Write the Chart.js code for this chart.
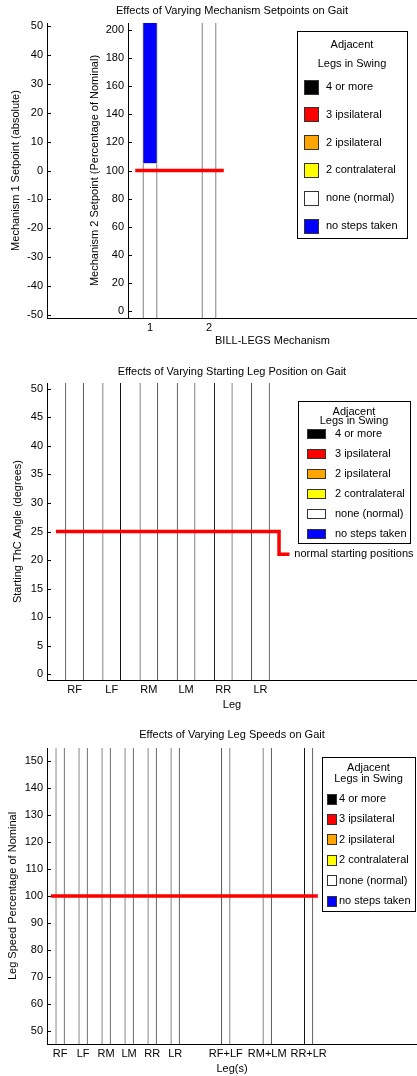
<!DOCTYPE html>
<html>
<head>
<meta charset="utf-8">
<title>Gait figures</title>
<script src="https://cdn.jsdelivr.net/npm/chart.js@4.4.1/dist/chart.umd.min.js"></script>
<style>
  html, body { margin: 0; padding: 0; background: #fff; overflow: hidden; }
  #page { position: relative; width: 417px; height: 1076px; }
  canvas { position: absolute; left: 0; }
</style>
</head>
<body>
<div id="page">
  <canvas id="mechOuter" width="417" height="355" style="top:0"></canvas>
  <canvas id="mechInner" width="417" height="355" style="top:0"></canvas>
  <canvas id="startPos" width="417" height="365" style="top:355px"></canvas>
  <canvas id="legSpeed" width="417" height="356" style="top:720px"></canvas>
</div>
<script>
// legend categories (same in all three panels)
const swingTitle = ['Adjacent', 'Legs in Swing'];
const swingLabels = ['4 or more', '3 ipsilateral', '2 ipsilateral', '2 contralateral', 'none (normal)', 'no steps taken'];
const swingColors = ['#000000', '#ff0000', '#ffa500', '#ffff00', '#ffffff', '#0000ff'];

// panel 1 - mechanism setpoints
const mechTitle = 'Effects of Varying Mechanism Setpoints on Gait';
const mechNames = ['1', '2'];
const mechPos = [1, 2];
const mechNormal = [[-5, 105], [-5, 205]];
const mechNoSteps = [[105, 205], null];
const mech1Ticks = [-50, -40, -30, -20, -10, 0, 10, 20, 30, 40, 50];
const mech2Ticks = [0, 20, 40, 60, 80, 100, 120, 140, 160, 180, 200];
const mechNominalX = [0.75, 2.25];
const mechNominalY = [100, 100];

// panel 2 - starting leg position
const startTitle = 'Effects of Varying Starting Leg Position on Gait';
const legNames = ['RF', 'LF', 'RM', 'LM', 'RR', 'LR'];
const legPos = [1, 2, 3, 4, 5, 6];
const startNormal = [[-1, 51], [-1, 51], [-1, 51], [-1, 51], [-1, 51], [-1, 51]];
const startTicks = [0, 5, 10, 15, 20, 25, 30, 35, 40, 45, 50];
const startNominalX = [0.5, 6.5, 6.5, 6.78];
const startNominalY = [25, 25, 21, 21];
const startNote = 'normal starting positions';

// panel 3 - leg speeds
const speedTitle = 'Effects of Varying Leg Speeds on Gait';
const speedNames = ['RF', 'LF', 'RM', 'LM', 'RR', 'LR', 'RF+LF', 'RM+LM', 'RR+LR'];
const speedPos = [1, 2, 3, 4, 5, 6, 8.2, 10, 11.8];
const speedNormal = [[45, 155], [45, 155], [45, 155], [45, 155], [45, 155], [45, 155], [45, 155], [45, 155], [45, 155]];
const speedTicks = [50, 60, 70, 80, 90, 100, 110, 120, 130, 140, 150];
const speedNominalX = [0.6, 12.2];
const speedNominalY = [100, 100];

const FONT = "'Liberation Sans', Arial, sans-serif";
Chart.defaults.font.family = FONT;
Chart.defaults.font.size = 11;
Chart.defaults.color = '#000';

// one bar dataset per legend category, floating bars [from, to]
function swingDatasets(pos, byCategory, pct) {
  return swingLabels.map(function (label, k) {
    const ranges = byCategory[label] || [];
    return {
      type: 'bar',
      label: label,
      order: 1,
      grouped: false,
      backgroundColor: swingColors[k],
      borderColor: '#111',
      borderWidth: {left: 1, right: 1, top: 0, bottom: 0},
      borderSkipped: false,
      barPercentage: pct,
      categoryPercentage: 1,
      data: ranges.map(function (r, i) { return r && {x: pos[i], y: r}; }).filter(Boolean)
    };
  });
}

function nominalLine(xs, ys) {
  return {
    type: 'line',
    label: 'nominal',
    order: 0,
    borderColor: '#ff0000',
    borderWidth: 3.5,
    borderJoinStyle: 'miter',
    pointRadius: 0,
    fill: false,
    tension: 0,
    data: xs.map(function (x, i) { return {x: x, y: ys[i]}; })
  };
}

function fixedTicks(values) {
  return function (s) { s.ticks = values.map(function (v) { return {value: v}; }); };
}
function tickName(pos, names) {
  return function (v) { const i = pos.indexOf(v); return i < 0 ? '' : names[i]; };
}

// matlab style ticks pointing into the axes
const inwardTicks = {
  id: 'inwardTicks',
  beforeDatasetsDraw(chart) {
    const ctx = chart.ctx;
    ctx.save();
    ctx.strokeStyle = '#000';
    ctx.lineWidth = 1;
    Object.values(chart.scales).forEach(function (s) {
      if (!s.options.display || !s.options.ticks.display) return;
      s.ticks.forEach(function (t) {
        const p = Math.round(s.getPixelForValue(t.value)) + 0.5;
        ctx.beginPath();
        if (s.isHorizontal()) {
          ctx.moveTo(p, s.top); ctx.lineTo(p, s.top - 3);
        } else {
          ctx.moveTo(s.right, p); ctx.lineTo(s.right + 4, p);
        }
        ctx.stroke();
      });
    });
    ctx.restore();
  }
};

// boxed legend with a two line title
const swingLegend = {
  id: 'swingLegend',
  afterDraw(chart, args, o) {
    if (!o.box) return;
    const ctx = chart.ctx;
    const b = o.box;
    ctx.save();
    ctx.fillStyle = '#fff';
    ctx.fillRect(b.x, b.y, b.w, b.h);
    ctx.strokeStyle = '#000';
    ctx.lineWidth = 1;
    ctx.strokeRect(b.x + 0.5, b.y + 0.5, b.w, b.h);
    ctx.font = '11px ' + FONT;
    ctx.fillStyle = '#000';
    ctx.textAlign = 'center';
    ctx.textBaseline = 'middle';
    swingTitle.forEach(function (t, i) { ctx.fillText(t, b.x + b.w / 2, b.y + o.titleY[i]); });
    const bars = chart.data.datasets.filter(function (d) { return d.type === 'bar'; });
    bars.forEach(function (d, i) {
      const y = b.y + o.firstY + i * o.stepY;
      ctx.fillStyle = d.backgroundColor;
      ctx.fillRect(b.x + o.swX, Math.round(y - o.swH / 2), o.swW, o.swH);
      ctx.strokeStyle = '#333';
      ctx.strokeRect(b.x + o.swX + 0.5, Math.round(y - o.swH / 2) + 0.5, o.swW - 1, o.swH - 1);
      ctx.fillStyle = '#000';
      ctx.textAlign = 'left';
      ctx.fillText(d.label, b.x + o.textX, y);
    });
    ctx.restore();
  }
};

const noteLabel = {
  id: 'noteLabel',
  afterDatasetsDraw(chart, args, o) {
    if (!o.text) return;
    const ctx = chart.ctx;
    ctx.save();
    ctx.font = '11px ' + FONT;
    ctx.fillStyle = '#000';
    ctx.textAlign = 'left';
    ctx.textBaseline = 'middle';
    ctx.fillText(o.text, chart.scales.x.getPixelForValue(o.x), chart.scales.y.getPixelForValue(o.y));
    ctx.restore();
  }
};

const common = {
  responsive: false,
  animation: false,
  events: []
};
const noGrid = {display: false, drawTicks: false};
const axisBorder = {display: true, color: '#000', width: 1};

// ---------- panel 1: outer axes (mechanism 1) ----------
new Chart(document.getElementById('mechOuter'), {
  type: 'scatter',
  data: {datasets: []},
  options: Object.assign({}, common, {
    layout: {autoPadding: false, padding: {top: 0, left: 0, right: 0, bottom: 0}},
    plugins: {
      legend: {display: false},
      tooltip: {enabled: false},
      title: {display: true, text: mechTitle, fullSize: false, font: {size: 11, weight: 'normal'}, padding: {top: 4, bottom: 5.8}}
    },
    scales: {
      x: {
        type: 'linear', min: 0, max: 1, offset: false,
        ticks: {display: false}, grid: noGrid, border: axisBorder,
        afterFit: function (s) { s.height = 37; }
      },
      y: {
        min: -51, max: 51,
        afterBuildTicks: fixedTicks(mech1Ticks),
        ticks: {padding: 4},
        grid: noGrid, border: axisBorder,
        title: {display: true, text: 'Mechanism 1 Setpoint (absolute)', padding: {top: 9, bottom: 0}},
        afterFit: function (s) { s.width = 47; }
      }
    }
  }),
  plugins: [inwardTicks]
});

// ---------- panel 1: inner axes (mechanism 2, bars) ----------
new Chart(document.getElementById('mechInner'), {
  type: 'bar',
  data: {
    datasets: [nominalLine(mechNominalX, mechNominalY)].concat(
      swingDatasets(mechPos, {'none (normal)': mechNormal, 'no steps taken': mechNoSteps}, 0.25))
  },
  options: Object.assign({}, common, {
    layout: {autoPadding: false, padding: {top: 23, left: 88, right: 0, bottom: 7}},
    plugins: {
      legend: {display: false},
      tooltip: {enabled: false},
      swingLegend: {box: {x: 297, y: 31, w: 110, h: 207}, titleY: [14, 33], firstY: 56, stepY: 27.8, swX: 7, swW: 15, swH: 15, textX: 29}
    },
    scales: {
      x: {
        type: 'linear', min: 0.627, max: 5.525, offset: false,
        afterBuildTicks: fixedTicks(mechPos),
        ticks: {callback: tickName(mechPos, mechNames), padding: 3, autoSkip: false, maxRotation: 0},
        grid: noGrid, border: axisBorder,
        title: {display: true, text: 'BILL-LEGS Mechanism', padding: 0},
        afterFit: function (s) { s.height = 30; }
      },
      y: {
        min: -5, max: 205,
        afterBuildTicks: fixedTicks(mech2Ticks),
        ticks: {padding: 4},
        grid: noGrid, border: axisBorder,
        title: {display: true, text: 'Mechanism 2 Setpoint (Percentage of Nominal)', padding: {top: 0, bottom: 0}},
        afterFit: function (s) { s.width = 40; }
      }
    }
  }),
  plugins: [inwardTicks, swingLegend]
});

// ---------- panel 2: starting leg position ----------
new Chart(document.getElementById('startPos'), {
  type: 'bar',
  data: {
    datasets: [nominalLine(startNominalX, startNominalY)].concat(
      swingDatasets(legPos, {'none (normal)': startNormal}, 0.5))
  },
  options: Object.assign({}, common, {
    layout: {autoPadding: false, padding: {top: 0, left: 0, right: 0, bottom: 8.4}},
    plugins: {
      legend: {display: false},
      tooltip: {enabled: false},
      title: {display: true, text: startTitle, fullSize: false, font: {size: 11, weight: 'normal'}, padding: {top: 10.4, bottom: 4.4}},
      swingLegend: {box: {x: 298, y: 46, w: 112, h: 142}, titleY: [10.5, 20], firstY: 33.3, stepY: 20, swX: 9, swW: 19, swH: 10, textX: 37},
      noteLabel: {text: startNote, x: 6.91, y: 21}
    },
    scales: {
      x: {
        type: 'linear', min: 0.26, max: 10.21, offset: false,
        afterBuildTicks: fixedTicks(legPos),
        ticks: {callback: tickName(legPos, legNames), padding: 3, autoSkip: false, maxRotation: 0},
        grid: noGrid, border: axisBorder,
        title: {display: true, text: 'Leg', padding: 0},
        afterFit: function (s) { s.height = 31.6; }
      },
      y: {
        min: -1, max: 51,
        afterBuildTicks: fixedTicks(startTicks),
        ticks: {padding: 4},
        grid: noGrid, border: axisBorder,
        title: {display: true, text: 'Starting ThC Angle (degrees)', padding: {top: 11.4, bottom: 0}},
        afterFit: function (s) { s.width = 47; }
      }
    }
  }),
  plugins: [inwardTicks, noteLabel, swingLegend]
});

// ---------- panel 3: leg speeds ----------
new Chart(document.getElementById('legSpeed'), {
  type: 'bar',
  data: {
    datasets: [nominalLine(speedNominalX, speedNominalY)].concat(
      swingDatasets(speedPos, {'none (normal)': speedNormal}, 0.4))
  },
  options: Object.assign({}, common, {
    layout: {autoPadding: false, padding: {top: 0, left: 0, right: 0, bottom: 0.4}},
    plugins: {
      legend: {display: false},
      tooltip: {enabled: false},
      title: {display: true, text: speedTitle, fullSize: false, font: {size: 11, weight: 'normal'}, padding: {top: 8.4, bottom: 6.4}},
      swingLegend: {box: {x: 322, y: 37, w: 93, h: 154}, titleY: [11, 22], firstY: 42, stepY: 20.4, swX: 5, swW: 10, swH: 11, textX: 17}
    },
    scales: {
      x: {
        type: 'linear', min: 0.43, max: 16.51, offset: false,
        afterBuildTicks: fixedTicks(speedPos),
        ticks: {callback: tickName(speedPos, speedNames), padding: 3, autoSkip: false, maxRotation: 0},
        grid: noGrid, border: axisBorder,
        title: {display: true, text: 'Leg(s)', padding: 0},
        afterFit: function (s) { s.height = 31.6; }
      },
      y: {
        min: 45, max: 155,
        afterBuildTicks: fixedTicks(speedTicks),
        ticks: {padding: 4},
        grid: noGrid, border: axisBorder,
        title: {display: true, text: 'Leg Speed Percentage of Nominal', padding: {top: 6.2, bottom: 0}},
        afterFit: function (s) { s.width = 47; }
      }
    }
  }),
  plugins: [inwardTicks, swingLegend]
});
</script>
</body>
</html>
